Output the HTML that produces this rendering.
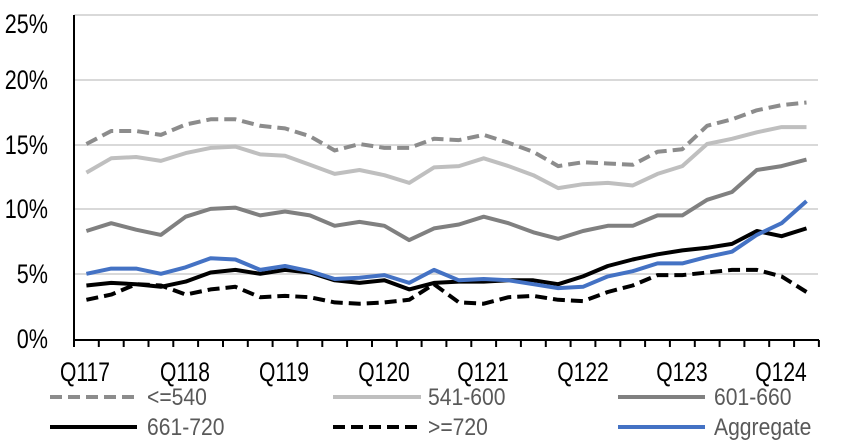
<!DOCTYPE html>
<html><head><meta charset="utf-8"><style>
html,body{margin:0;padding:0;background:#fff;}
svg{display:block;font-family:"Liberation Sans",Arial,sans-serif;}
.yl text{transform-box:fill-box;transform-origin:right center;transform:scaleX(.8);}
.xl text{transform-box:fill-box;transform-origin:center center;transform:scaleX(.78);}
.lg text{transform-box:fill-box;transform-origin:left center;transform:scaleX(.88);}
</style></head><body>
<svg id="c" width="852" height="442" viewBox="0 0 852 442">
<g stroke="#d9d9d9" stroke-width="2">
<line x1="74" y1="15" x2="818" y2="15"/><line x1="74" y1="80" x2="818" y2="80"/>
<line x1="74" y1="145" x2="818" y2="145"/><line x1="74" y1="209" x2="818" y2="209"/>
<line x1="74" y1="274" x2="818" y2="274"/>
</g>
<g class="yl" font-size="27" fill="#000" text-anchor="end">
<text x="48" y="33">25%</text><text x="48" y="89">20%</text><text x="48" y="154">15%</text>
<text x="48" y="218">10%</text><text x="48" y="283">5%</text><text x="48" y="348">0%</text>
</g>
<g id="ax" stroke="#000" stroke-width="2" fill="none"></g>
<g class="xl" font-size="27" fill="#000" text-anchor="middle">
<text x="85" y="381">Q117</text><text x="185" y="381">Q118</text><text x="284" y="381">Q119</text>
<text x="384" y="381">Q120</text><text x="483" y="381">Q121</text><text x="583" y="381">Q122</text>
<text x="682" y="381">Q123</text><text x="781" y="381">Q124</text>
</g>
<g id="ser" fill="none" stroke-linejoin="round"></g>
<g stroke-width="4">
<line x1="50" y1="397" x2="137" y2="397" stroke="#8c8c8c" stroke-dasharray="12,6"/>
<line x1="333" y1="397" x2="421" y2="397" stroke="#bfbfbf"/>
<line x1="618" y1="397" x2="705" y2="397" stroke="#808080"/>
<line x1="50" y1="427" x2="137" y2="427" stroke="#000"/>
<line x1="333" y1="427" x2="421" y2="427" stroke="#000" stroke-dasharray="12,6"/>
<line x1="618" y1="427" x2="705" y2="427" stroke="#4472c4"/>
</g>
<g class="lg" font-size="24" fill="#595959">
<text x="147" y="405">&lt;=540</text><text x="428" y="405">541-600</text><text x="714" y="405">601-660</text>
<text x="147" y="435">661-720</text><text x="428" y="435">&gt;=720</text><text x="714" y="435">Aggregate</text>
</g>
</svg>
<script>
var ns="http://www.w3.org/2000/svg";
var ax=document.getElementById("ax");
var d="M74 15 V340 M73 340 H819";
for(var i=0;i<=30;i++){var x=74+i*24.83;d+=" M"+x.toFixed(1)+" 340 V347";}
var p=document.createElementNS(ns,"path");p.setAttribute("d",d);ax.appendChild(p);
var S=[
["#8c8c8c","12,6",[15.1,16.1,16.1,15.8,16.6,17.0,17.0,16.5,16.3,15.7,14.6,15.1,14.8,14.8,15.5,15.4,15.8,15.2,14.5,13.4,13.7,13.6,13.5,14.5,14.7,16.5,17.0,17.7,18.1,18.3]],
["#bfbfbf","",[12.9,14.0,14.1,13.8,14.4,14.8,14.9,14.3,14.2,13.5,12.8,13.1,12.7,12.1,13.3,13.4,14.0,13.4,12.7,11.7,12.0,12.1,11.9,12.8,13.4,15.1,15.5,16.0,16.4,16.4]],
["#808080","",[8.4,9.0,8.5,8.1,9.5,10.1,10.2,9.6,9.9,9.6,8.8,9.1,8.8,7.7,8.6,8.9,9.5,9.0,8.3,7.8,8.4,8.8,8.8,9.6,9.6,10.8,11.4,13.1,13.4,13.9]],
["#000","12,6",[3.1,3.5,4.3,4.2,3.5,3.9,4.1,3.3,3.4,3.3,2.9,2.8,2.9,3.1,4.3,2.9,2.8,3.3,3.4,3.1,3.0,3.7,4.2,5.0,5.0,5.2,5.4,5.4,4.9,3.7]],
["#000","",[4.2,4.4,4.3,4.1,4.5,5.2,5.4,5.1,5.4,5.2,4.6,4.4,4.6,3.9,4.4,4.5,4.5,4.6,4.6,4.3,4.9,5.7,6.2,6.6,6.9,7.1,7.4,8.4,8.0,8.6]],
["#4472c4","",[5.1,5.5,5.5,5.1,5.6,6.3,6.2,5.4,5.7,5.3,4.7,4.8,5.0,4.4,5.4,4.6,4.7,4.6,4.3,4.0,4.1,4.9,5.3,5.9,5.9,6.4,6.8,8.1,9.0,10.7]]
];
var g=document.getElementById("ser");
S.forEach(function(s){var pts=s[2].map(function(v,i){return (86.4+i*24.83).toFixed(1)+","+(340-v*12.98).toFixed(1);}).join(" ");
var l=document.createElementNS(ns,"polyline");l.setAttribute("points",pts);l.setAttribute("stroke",s[0]);l.setAttribute("stroke-width","4");
if(s[1])l.setAttribute("stroke-dasharray",s[1]);g.appendChild(l);});
</script>
</body></html>
